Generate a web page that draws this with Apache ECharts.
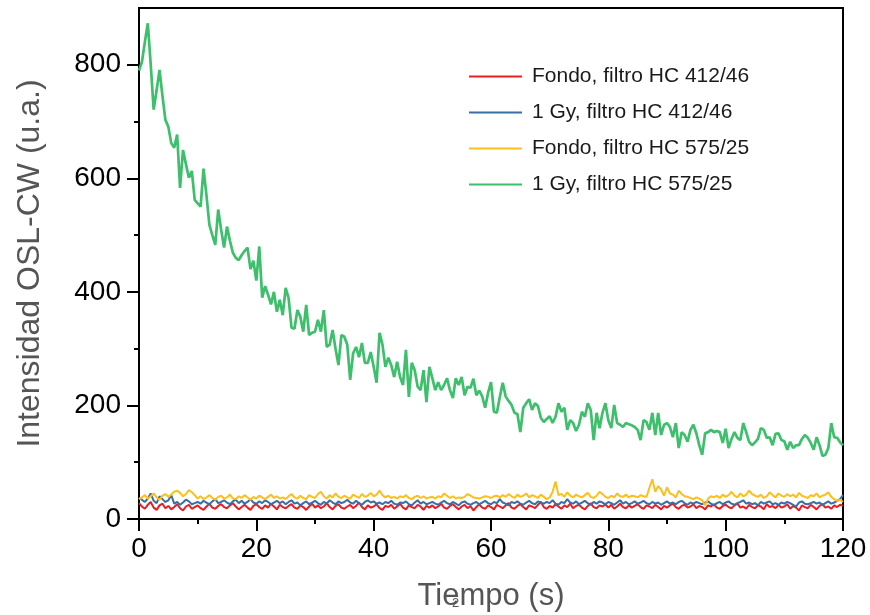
<!DOCTYPE html>
<html>
<head>
<meta charset="utf-8">
<script src="https://cdn.jsdelivr.net/npm/echarts@6/dist/echarts.min.js"></script>
<style>
  html, body { margin: 0; padding: 0; background: #fff; }
  #chart { width: 870px; height: 615px; }
</style>
</head>
<body>
<div id="chart"></div>
<script>
// Sampling interval of the recorded curves (seconds)
const timeStep = 0.5;

const seriesNames = [
  'Fondo, filtro HC 412/46',
  '1 Gy, filtro HC 412/46',
  'Fondo, filtro HC 575/25',
  '1 Gy, filtro HC 575/25'
];

const xTicks = [0, 20, 40, 60, 80, 100, 120];
const yTicks = [0, 200, 400, 600, 800];
const yMinorTicks = [100, 300, 500, 700];

// Fondo, filtro HC 412/46 (red)
const fondo412 = [
  28,22,18,25,30,20,16,24,27,19,
  23,17,21,26,19,15,22,25,18,21,
  24,19,16,22,27,20,18,23,26,21,
  19,24,28,22,17,21,25,20,16,23,
  26,21,18,24,20,27,22,17,25,21,
  19,23,26,20,18,24,21,16,22,27,
  20,24,19,22,28,21,17,23,26,20,
  18,22,25,19,23,29,21,17,24,20,
  22,26,19,16,23,21,25,18,22,27,
  20,17,24,21,19,25,22,16,23,20,
  24,19,22,27,20,18,23,26,21,17,
  22,25,19,23,15,21,26,20,18,24,
  21,17,25,22,19,24,28,20,18,23,
  26,21,17,24,22,19,25,30,21,18,
  23,20,26,22,18,24,21,27,19,23,
  25,20,17,23,28,21,19,24,22,26,
  20,25,18,22,27,21,19,24,20,23,
  26,21,18,24,22,19,25,21,17,23,
  20,24,27,21,18,23,25,20,22,26,
  19,23,21,17,24,22,26,20,18,23,
  25,21,19,24,27,20,22,18,25,21,
  19,24,22,17,26,21,23,19,25,20,
  22,26,18,23,20,15,24,21,19,25,
  21,17,23,26,20,22,18,24,21,25,
  23
];

// 1 Gy, filtro HC 412/46 (blue)
const gy412 = [
  38,34,30,36,45,32,28,40,35,30,
  33,42,27,30,25,29,34,31,26,28,
  30,27,32,29,26,31,35,28,30,33,
  29,26,31,34,28,32,27,30,35,29,
  27,31,28,33,30,26,29,32,28,31,
  26,30,33,27,29,24,28,31,26,29,
  32,28,25,30,27,33,29,26,31,28,
  30,34,29,27,32,28,25,30,33,29,
  31,27,29,26,30,28,32,27,25,29,
  28,31,26,24,29,33,27,30,26,28,
  30,27,25,29,32,28,26,30,27,24,
  29,31,27,25,28,30,26,29,32,28,
  26,30,28,35,29,27,24,30,28,31,
  27,25,29,32,28,26,31,29,27,30,
  28,33,27,25,30,28,35,29,27,31,
  26,29,32,28,25,30,27,31,29,26,
  30,28,25,29,33,27,30,26,28,31,
  27,29,32,28,26,30,27,29,25,28,
  31,27,29,26,30,32,28,25,29,27,
  30,28,26,29,31,27,24,28,30,26,
  29,31,27,25,28,30,33,27,29,26,
  28,24,30,27,29,31,26,28,25,29,
  27,30,28,25,22,29,31,27,26,28,
  30,27,29,25,28,31,27,29,32,35,
  42
];

// Fondo, filtro HC 575/25 (yellow)
const fondo575 = [
  35,38,42,36,40,45,38,34,41,44,
  39,43,48,50,46,40,44,51,47,42,
  36,40,35,38,42,37,34,39,41,36,
  38,43,36,35,40,37,42,38,34,39,
  36,41,38,35,39,43,37,40,36,38,
  35,40,44,38,36,41,37,35,42,39,
  37,44,48,40,36,42,38,45,39,37,
  41,38,36,43,40,37,44,39,41,46,
  40,43,50,42,38,41,37,39,36,40,
  38,42,37,35,39,41,37,40,36,38,
  39,36,40,38,45,41,37,40,36,38,
  37,39,44,41,38,37,36,38,40,39,
  37,40,41,38,42,39,44,40,37,43,
  39,41,45,38,42,40,37,43,39,35,
  38,48,66,42,44,39,47,41,38,43,
  40,38,42,46,39,37,41,48,44,39,
  37,41,38,45,40,39,43,38,41,40,
  38,42,40,39,55,70,48,58,52,41,
  56,45,43,38,50,44,40,39,37,35,
  38,36,33,24,36,40,38,41,37,43,
  39,42,48,41,38,45,40,43,50,44,
  41,39,43,37,40,47,42,38,45,41,
  39,44,40,43,38,46,41,39,37,42,
  40,45,38,41,43,47,39,35,32,34,
  30
];

// 1 Gy, filtro HC 575/25 (green)
const gy575 = [
  790,805,840,873,800,721,755,791,745,703,
  691,662,654,677,583,650,625,601,613,562,
  556,550,617,570,518,500,483,545,510,478,
  515,490,469,460,456,465,472,478,440,455,
  420,480,390,410,395,378,400,365,386,359,
  407,389,337,335,368,356,330,377,324,328,
  330,351,330,368,303,307,333,300,271,324,
  321,307,245,292,303,285,310,275,275,294,
  268,240,328,307,268,284,271,250,277,250,
  236,298,215,275,262,233,227,262,206,268,
  248,227,241,227,236,248,227,213,248,236,
  250,218,233,231,247,218,226,216,196,222,
  241,189,187,215,240,216,208,201,187,185,
  153,196,204,211,192,204,199,178,171,176,
  181,169,180,204,189,196,157,174,169,155,
  166,189,180,204,192,139,187,160,187,204,
  174,160,201,169,166,162,169,167,165,162,
  157,139,174,171,157,187,148,187,148,166,
  169,162,144,169,125,153,148,136,157,166,
  151,130,113,151,153,157,153,155,153,134,
  159,125,141,153,143,139,169,153,136,130,
  135,141,160,157,143,144,130,150,151,139,
  137,122,136,125,130,130,141,148,143,134,
  122,144,130,111,113,125,169,144,143,135,
  130
];

const seriesValues = [fondo412, gy412, fondo575, gy575];
const seriesColors = ['#ec1c24', '#3a6ea5', '#fcbf1b', '#3dbf6c'];
const seriesWidths = [2, 2, 2, 2.7];

const toPairs = vals => vals.map((v, i) => [i * timeStep, v]);

const FONT = '"Liberation Sans", Arial, Helvetica, sans-serif';

const chart = echarts.init(document.getElementById('chart'), null, { renderer: 'canvas' });

chart.setOption({
  animation: false,
  backgroundColor: '#ffffff',
  textStyle: { fontFamily: FONT },
  grid: {
    left: 139, right: 27, top: 8, bottom: 96,
    containLabel: false,
    outerBoundsMode: 'none',
    show: true, borderColor: '#000', borderWidth: 2, backgroundColor: 'transparent'
  },
  legend: {
    orient: 'vertical',
    left: 464,
    top: 61,
    icon: 'rect',
    itemWidth: 53,
    itemHeight: 2,
    itemGap: 15,
    data: seriesNames,
    textStyle: { fontFamily: FONT, fontSize: 21, color: '#1a1a1a', padding: [0, 0, 0, 5] }
  },
  xAxis: {
    type: 'value',
    min: 0, max: 120, interval: 20,
    name: 'Tiempo (s)',
    nameLocation: 'middle',
    nameGap: 62,
    nameTextStyle: { fontFamily: FONT, fontSize: 31, color: '#555555' },
    axisLine: { show: true, onZero: false, lineStyle: { color: '#000', width: 2 } },
    axisTick: { show: true, inside: false, length: 12, lineStyle: { color: '#000', width: 2 } },
    minorTick: { show: true, splitNumber: 2, length: 5, lineStyle: { color: '#000', width: 2 } },
    axisLabel: { margin: 16, fontFamily: FONT, fontSize: 28, color: '#000',
      customValues: xTicks },
    splitLine: { show: false },
    minorSplitLine: { show: false }
  },
  yAxis: [
    {
      type: 'value',
      min: 0, max: 900, interval: 200,
      name: 'Intensidad OSL-CW (u.a.)',
      nameLocation: 'middle',
      nameGap: 93,
      nameTextStyle: { fontFamily: FONT, fontSize: 32, color: '#555555' },
      axisLine: { show: true, onZero: false, lineStyle: { color: '#000', width: 2 } },
      axisTick: { show: true, inside: false, length: 12, customValues: yTicks,
        lineStyle: { color: '#000', width: 2 } },
      axisLabel: { margin: 18, fontFamily: FONT, fontSize: 28, color: '#000',
        customValues: yTicks },
      splitLine: { show: false }
    },
    {
      type: 'value',
      min: 0, max: 900,
      position: 'left',
      axisLine: { show: false },
      axisTick: { show: true, inside: false, length: 5, customValues: yMinorTicks,
        lineStyle: { color: '#000', width: 2 } },
      axisLabel: { show: false },
      splitLine: { show: false }
    }
  ],
  graphic: [
    { type: 'text', left: 452, top: 597, silent: true,
      style: { text: '2', fontFamily: FONT, fontSize: 13, fill: '#555555' } }
  ],
  series: seriesNames.map((name, k) => ({
    name: name,
    type: 'line',
    xAxisIndex: 0,
    yAxisIndex: 0,
    data: toPairs(seriesValues[k]),
    symbol: 'none',
    showSymbol: false,
    smooth: false,
    color: seriesColors[k],
    lineStyle: { color: seriesColors[k], width: seriesWidths[k] },
    itemStyle: { color: seriesColors[k] },
    z: 2 + k
  }))
});
</script>
</body>
</html>
